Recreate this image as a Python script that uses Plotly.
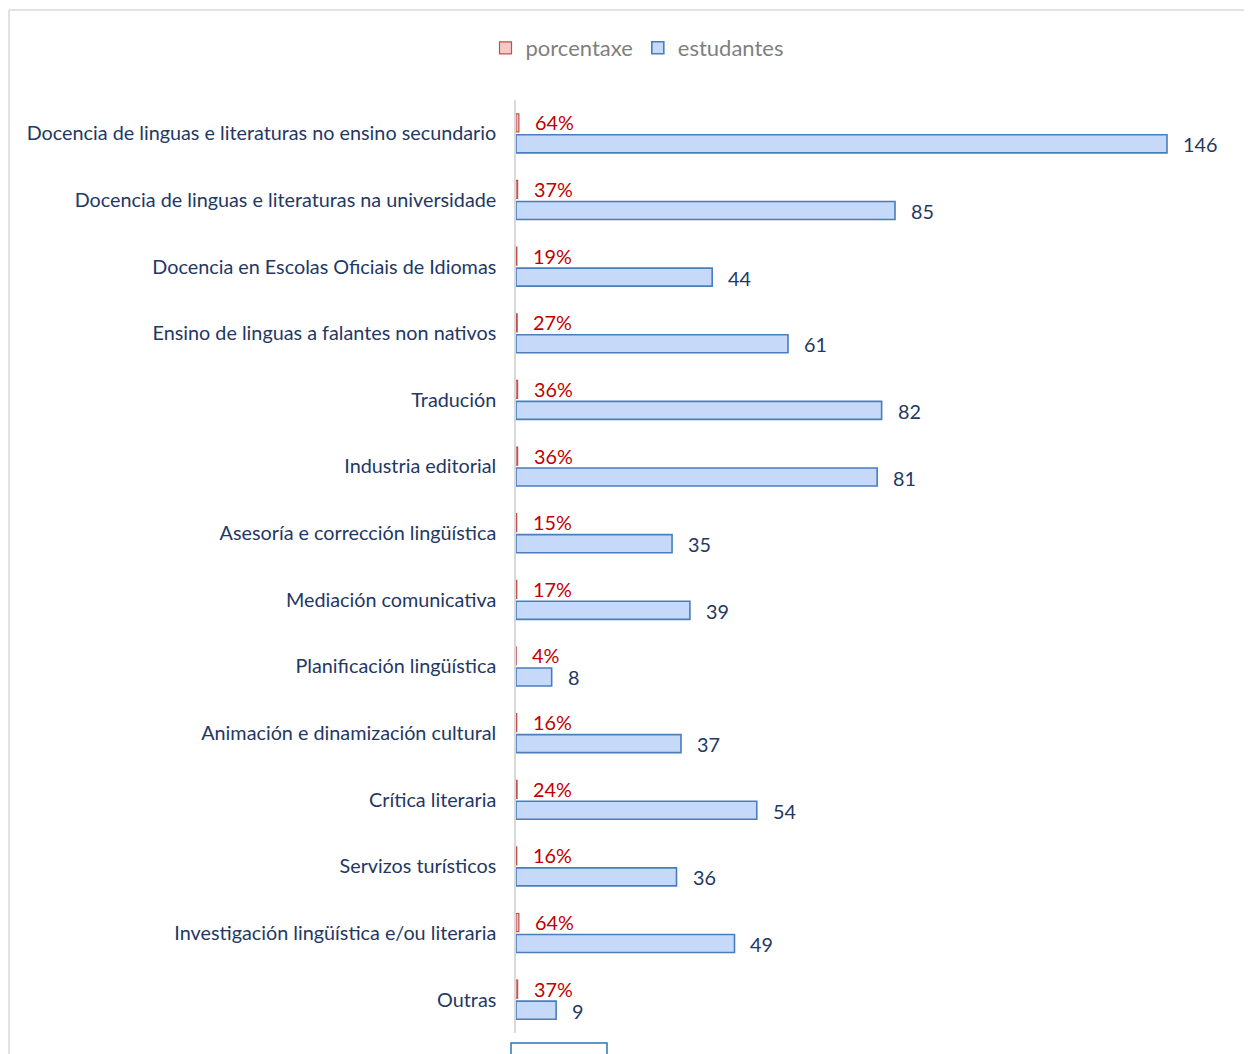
import plotly.graph_objects as go

categories = [
    "Docencia de linguas e literaturas no ensino secundario",
    "Docencia de linguas e literaturas na universidade",
    "Docencia en Escolas Oficiais de Idiomas",
    "Ensino de linguas a falantes non nativos",
    "Tradución",
    "Industria editorial",
    "Asesoría e corrección lingüística",
    "Mediación comunicativa",
    "Planificación lingüística",
    "Animación e dinamización cultural",
    "Crítica literaria",
    "Servizos turísticos",
    "Investigación lingüística e/ou literaria",
    "Outras",
]
porcentaxe = [0.64, 0.37, 0.19, 0.27, 0.36, 0.36, 0.15, 0.17, 0.04, 0.16, 0.24, 0.16, 0.64, 0.37]
estudantes = [146, 85, 44, 61, 82, 81, 35, 39, 8, 37, 54, 36, 49, 9]

OFF = 8  # page body margin
W, H = 1252 - OFF, 1054 - OFF
L, R, T, B = 516 - OFF, 12, 100 - OFF, 21
pw, ph = W - L - R, H - T - B
xmax = pw / ((1167 - 516) / 146)

FONT = "Lato"
NAVY = "#1F3864"
FS = 19.8


def px(x):
    return (x - OFF - L) / pw


def py(y):
    return 1 - (y - OFF - T) / ph


fig = go.Figure()
fig.add_trace(go.Bar(
    name="porcentaxe", y=categories, x=porcentaxe, orientation="h",
    marker=dict(color="#F6C9C7", line=dict(color="#C0504D", width=1.2)),
))
fig.add_trace(go.Bar(
    name="estudantes", y=categories, x=estudantes, orientation="h",
    marker=dict(color="#C6D9F8", line=dict(color="#4A7EBB", width=1.6)),
))

ann = []
for c, p, e in zip(categories, porcentaxe, estudantes):
    ann.append(dict(x=p, y=c, xref="x", yref="y", text=f"{round(p*100)}%",
                    showarrow=False, xanchor="left", yanchor="middle",
                    xshift=14, yshift=11, font=dict(color="#C00000", size=FS, family=FONT)))
    ann.append(dict(x=e, y=c, xref="x", yref="y", text=str(e),
                    showarrow=False, xanchor="left", yanchor="middle",
                    xshift=14, yshift=-11, font=dict(color=NAVY, size=FS, family=FONT)))

shapes = [
    dict(type="line", xref="paper", yref="paper",
         x0=px(9), x1=px(1260), y0=py(10), y1=py(10),
         line=dict(color="#D9D9D9", width=1.5)),
    dict(type="line", xref="paper", yref="paper",
         x0=px(9), x1=px(9), y0=py(10), y1=py(1060),
         line=dict(color="#D9D9D9", width=1.5)),
    dict(type="path", xref="paper", yref="paper",
         path=f"M {px(511)} {py(1060)} L {px(511)} {py(1043)} "
              f"L {px(607)} {py(1043)} L {px(607)} {py(1060)}",
         line=dict(color="#2E75B6", width=1.5)),
]

fig.update_layout(
    width=W, height=H,
    margin=dict(l=L, r=R, t=T, b=B, autoexpand=False),
    paper_bgcolor="white", plot_bgcolor="white",
    barmode="group", bargap=0.37, bargroupgap=0.14,
    font=dict(family=FONT, color=NAVY, size=FS),
    xaxis=dict(range=[0, xmax], showgrid=False, zeroline=False, showline=False,
               showticklabels=False, ticks=""),
    yaxis=dict(autorange="reversed", showgrid=False, zeroline=False,
               showline=True, linecolor="#D9D9D9", linewidth=1.5,
               ticks="", ticklabelstandoff=14,
               tickfont=dict(size=FS, color=NAVY, family=FONT)),
    legend=dict(orientation="h", x=px(637), xanchor="center",
                y=py(48), yanchor="middle", itemwidth=30,
                font=dict(size=22, color="#7F7F7F", family=FONT),
                traceorder="normal"),
    annotations=ann, shapes=shapes, showlegend=True,
)

fig.write_html("out.html")
